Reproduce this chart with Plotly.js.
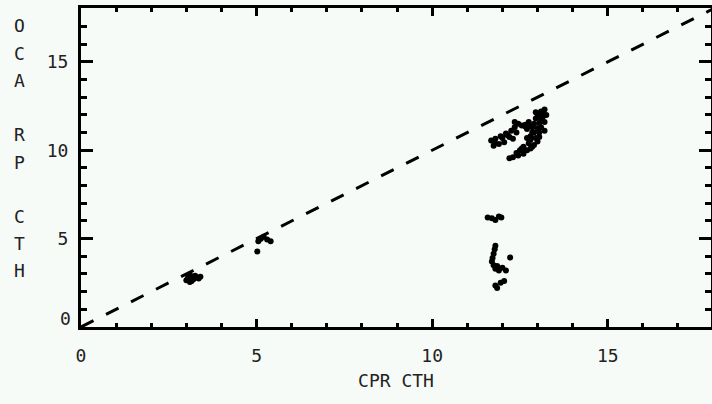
<!DOCTYPE html>
<html>
<head>
<meta charset="utf-8">
<script src="https://cdn.plot.ly/plotly-3.0.1.min.js"></script>
<style>html,body{margin:0;padding:0;background:#f7fbf7;overflow:hidden}#chart{width:712px;height:404px}</style>
</head>
<body>
<div id="chart"></div>
<script>
// CPR cloud top height (x) vs OCA RP cloud top height (y)
var cprCTH = [
  3.0, 3.05, 3.1, 3.15, 3.2, 3.3, 3.4, 3.1, 3.25, 3.35, 3.05, 3.15,
  5.02, 5.05, 5.2, 5.3, 5.4, 5.12,
  11.68, 11.78, 11.9, 11.8, 11.95, 12.1, 12.2, 12.25, 12.35, 12.45, 12.55,
  12.3, 12.7, 12.75, 12.8, 12.85, 12.9, 12.95, 13.0, 13.1, 13.2, 13.15,
  13.2, 13.1, 13.05, 12.95, 12.9, 12.8, 12.7, 12.6, 12.45, 12.3, 12.2,
  13.2, 13.0, 12.6, 12.5, 12.35, 13.25,
  12.15, 12.4, 12.65, 12.75, 12.85, 12.9, 13.0, 13.05, 13.1, 13.15, 12.95,
  12.8, 12.7, 12.85, 13.05, 12.65, 12.55, 12.4, 12.0, 11.75, 12.05, 12.75, 13.1,
  11.58, 11.7, 11.8, 11.9, 11.97,
  11.8, 11.78, 11.75, 11.72, 11.7, 11.75, 11.8, 11.9, 12.0, 11.85,
  12.1, 12.22, 11.85, 11.95, 12.05, 11.8
];
var ocaCTH = [
  2.65, 2.75, 2.55, 2.85, 2.7, 2.8, 2.85, 2.95, 2.9, 2.75, 2.8, 2.6,
  4.27, 4.85, 5.1, 4.95, 4.85, 5.0,
  10.55, 10.4, 10.35, 10.65, 10.8, 10.95, 10.75, 11.1, 11.3, 11.5, 11.4,
  10.65, 11.2, 10.4, 10.8, 11.0, 11.5, 11.8, 12.05, 12.2, 12.3, 11.9,
  11.6, 11.3, 11.0, 10.7, 10.3, 10.1, 10.0, 9.8, 9.7, 9.6, 9.55,
  11.1, 10.5, 10.2, 10.0, 11.6, 12.0,
  10.85, 11.0, 11.35, 11.6, 11.3, 11.0, 11.25, 11.55, 11.8, 12.1, 12.15,
  10.6, 10.7, 10.2, 10.75, 11.45, 10.1, 9.85, 10.7, 10.25, 10.45, 11.4, 11.9,
  6.2, 6.15, 6.05, 6.25, 6.2,
  4.6, 4.4, 4.15, 3.9, 3.7, 3.5, 3.3, 3.2, 3.35, 3.45,
  3.2, 3.93, 2.2, 2.5, 2.6, 2.35
];
var refLine = [0, 18];
var xTickVals = [0, 5, 10, 15];
var yTickVals = [5, 10, 15];
var xTitle = "CPR CTH";
var yTitle = "OCA RP CTH";

var fontFam = "DejaVu Sans Mono, monospace";
var txtCol = "#222";

var traces = [
  {x: refLine, y: refLine, mode: "lines", type: "scatter",
   line: {color: "#000", width: 3, dash: "14px,14px"}, hoverinfo: "skip"},
  {x: cprCTH, y: ocaCTH, mode: "markers", type: "scatter",
   marker: {color: "#000", size: 6, symbol: "circle"}, cliponaxis: true}
];

var annotations = [];
// vertical stacked y-axis title
var letters = yTitle.split("");
var yPix0 = 26, step = 27.2;
for (var i = 0; i < letters.length; i++) {
  if (letters[i] === " ") continue;
  annotations.push({xref: "paper", yref: "paper", x: (19 - 81) / 630, y: 1 - ((yPix0 + i * step) - 8) / 319,
    text: letters[i], showarrow: false, xanchor: "center", yanchor: "middle",
    font: {family: fontFam, size: 18, color: txtCol}});
}
// y "0" label drawn slightly raised, as in the reference
annotations.push({xref: "paper", yref: "paper", x: (73 - 81) / 630, y: 1 - (318 - 8) / 319,
  text: "0", showarrow: false, xanchor: "right", yanchor: "middle",
  font: {family: fontFam, size: 18, color: txtCol}});

var axisCommon = {
  showgrid: false, zeroline: false, showline: true, linecolor: "#000", linewidth: 3,
  mirror: "ticks", ticks: "inside", tickcolor: "#000", tickwidth: 3,
  tickfont: {family: fontFam, size: 18, color: txtCol}
};

var layout = {
  width: 712, height: 404,
  paper_bgcolor: "#f7fbf7", plot_bgcolor: "#f7fbf7",
  margin: {l: 81, r: 1, t: 8, b: 77},
  showlegend: false,
  xaxis: Object.assign({}, axisCommon, {
    range: [0, 17.94], tickvals: xTickVals, ticklen: 8,
    minor: {dtick: 1, ticks: "inside", ticklen: 4, tickwidth: 3, tickcolor: "#000", showgrid: false},
    ticklabelstandoff: 10,
    title: {text: xTitle, font: {family: fontFam, size: 18, color: txtCol}, standoff: 10}
  }),
  yaxis: Object.assign({}, axisCommon, {
    range: [0, 18.05], tickvals: yTickVals, ticklen: 12,
    minor: {dtick: 1, ticks: "inside", ticklen: 6, tickwidth: 3, tickcolor: "#000", showgrid: false},
    ticklabelstandoff: 6
  }),
  annotations: annotations
};

Plotly.newPlot("chart", traces, layout, {displayModeBar: false, staticPlot: true});
</script>
</body>
</html>
